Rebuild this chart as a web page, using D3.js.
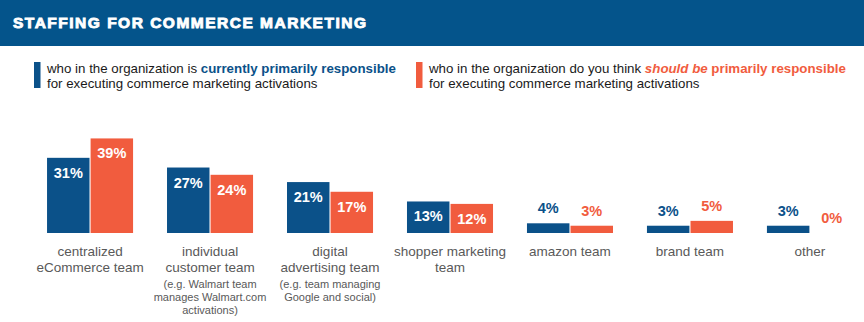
<!DOCTYPE html>
<html>
<head>
<meta charset="utf-8">
<script src="https://cdn.jsdelivr.net/npm/d3@7"></script>
<style>
  body { margin: 0; background: #fff; }
  svg { display: block; font-family: "Liberation Sans", Arial, sans-serif; }
</style>
</head>
<body>
<div id="chart"></div>
<script>
// chart values
const categories = ["centralized|eCommerce team", "individual|customer team", "digital|advertising team",
                    "shopper marketing|team", "amazon team", "brand team", "other"];
const notes = ["", "(e.g. Walmart team|manages Walmart.com|activations)", "(e.g. team managing|Google and social)", "", "", "", ""];
const currentVals = [31, 27, 21, 13, 4, 3, 3];
const shouldVals = [39, 24, 17, 12, 3, 5, 0];

const W = 864, H = 322;
const blue = "#0b5189", orange = "#f15c3e", grey = "#595959";

const svg = d3.select("#chart").append("svg")
    .attr("width", W).attr("height", H);

// header band
svg.append("rect").attr("x", 0).attr("y", 0).attr("width", W).attr("height", 46).attr("fill", "#04548b");
svg.append("text")
    .attr("x", 13).attr("y", 27.5)
    .attr("fill", "#fff")
    .attr("stroke", "#fff").attr("stroke-width", 0.9)
    .style("font-size", "15.5px").style("font-weight", "bold").style("letter-spacing", "1.5px")
    .text("STAFFING FOR COMMERCE MARKETING");

// legend
function legendItem(x, color, parts) {
    svg.append("rect").attr("x", x).attr("y", 62).attr("width", 6.5).attr("height", 26).attr("fill", color);
    const t = svg.append("text").attr("x", x + 13).attr("y", 73).style("font-size", "13.3px").attr("fill", "#1a1a1a");
    parts.forEach(p => {
        t.append("tspan").text(p.t)
            .attr("fill", p.c || "#1a1a1a")
            .style("font-weight", p.b ? "bold" : "normal")
            .style("font-style", p.i ? "italic" : "normal");
    });
    svg.append("text").attr("x", x + 13).attr("y", 88).style("font-size", "13.3px").attr("fill", "#1a1a1a")
        .text("for executing commerce marketing activations");
}
legendItem(34, blue, [
    { t: "who in the organization is " },
    { t: "currently primarily responsible", c: blue, b: true }
]);
legendItem(416, orange, [
    { t: "who in the organization do you think " },
    { t: "should be", c: orange, b: true, i: true },
    { t: " primarily responsible", c: orange, b: true }
]);

// scales
const baseY = 233;
const x0 = d3.scaleBand().domain(d3.range(categories.length)).range([30, 870]).paddingInner(0.283).paddingOuter(0.142);
const x1 = d3.scaleBand().domain([0, 1]).range([0, x0.bandwidth()]).paddingInner(0.025);
const y = d3.scaleLinear().domain([0, 40]).range([baseY, baseY - 97]);

const series = [
    { vals: currentVals, color: blue },
    { vals: shouldVals, color: orange }
];

const groups = svg.append("g").selectAll("g")
    .data(categories)
    .join("g")
    .attr("transform", (d, i) => `translate(${x0(i)},0)`);

series.forEach((s, si) => {
    groups.append("rect")
        .attr("x", x1(si))
        .attr("width", x1.bandwidth())
        .attr("y", (d, i) => y(s.vals[i]))
        .attr("height", (d, i) => baseY - y(s.vals[i]))
        .attr("fill", s.color);

    groups.append("text")
        .attr("x", x1(si) + x1.bandwidth() / 2)
        .attr("y", (d, i) => s.vals[i] >= 10 ? y(s.vals[i]) + 20 : y(s.vals[i]) - 10)
        .attr("text-anchor", "middle")
        .attr("fill", (d, i) => s.vals[i] >= 10 ? "#fff" : s.color)
        .style("font-size", "14.5px").style("font-weight", "bold")
        .text((d, i) => s.vals[i] + "%");
});

// category labels
groups.each(function (d, i) {
    const g = d3.select(this);
    const cx = x0.bandwidth() / 2;
    const lines = d.split("|");
    lines.forEach((ln, k) => {
        g.append("text")
            .attr("x", cx).attr("y", 256 + k * 16)
            .attr("text-anchor", "middle")
            .attr("fill", grey)
            .style("font-size", "13.5px")
            .text(ln);
    });
    if (notes[i]) {
        notes[i].split("|").forEach((ln, k) => {
            g.append("text")
                .attr("x", cx).attr("y", 288 + k * 13)
                .attr("text-anchor", "middle")
                .attr("fill", grey)
                .style("font-size", "11px")
                .text(ln);
        });
    }
});
</script>
</body>
</html>
